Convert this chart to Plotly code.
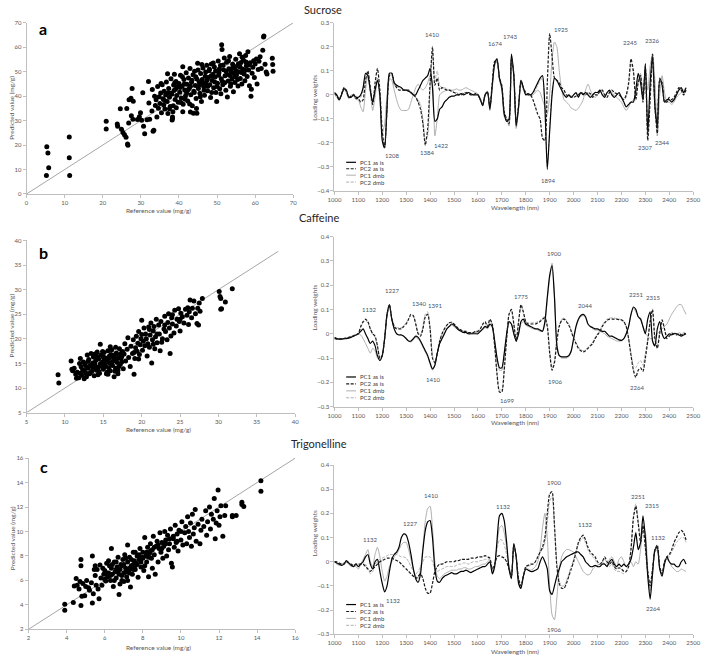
import plotly.graph_objects as go

W, H = 710, 659


def px(x):
    return x / W


def py(y):
    return 1 - y / H


# ---------------------------------------------------------------- scatter data
sucrose_points = [
    (5.2, 7.6), (5.3, 19.3), (5.6, 16.8), (5.8, 10.7), (11.2, 23.3), (11.2, 14.8), (11.3, 7.5),
    (20.9, 29.7), (20.9, 26.6), (23.8, 28.6), (23.9, 27.7), (24.6, 34.9), (24.9, 26.5), (25.3, 25.1),
    (25.7, 24.2), (26.1, 23.2), (26.3, 35.0), (26.5, 20.4), (26.6, 19.9), (26.8, 29.0), (26.9, 38.5),
    (27.4, 39.1), (27.5, 32.0), (27.7, 43.1), (27.9, 30.6), (28.0, 37.9), (29.1, 30.5), (29.6, 31.6),
    (29.9, 33.2), (30.2, 30.1), (30.5, 41.4), (30.7, 27.7), (31.0, 24.6), (31.6, 30.4), (32.0, 46.0),
    (32.1, 37.2), (32.3, 30.6), (32.9, 33.9), (33.2, 25.6), (33.4, 26.1), (33.0, 42.7), (33.6, 40.0),
    (33.8, 36.2), (34.0, 38.5), (34.2, 31.5), (34.4, 43.9), (34.6, 35.1), (34.8, 39.8), (35.0, 37.0),
    (35.2, 41.3), (35.4, 33.2), (35.6, 44.7), (35.8, 38.9), (36.0, 36.4), (36.1, 42.0), (36.3, 34.7),
    (36.5, 40.5), (36.7, 45.8), (36.9, 37.8), (37.0, 49.2), (37.1, 32.9), (37.3, 43.1), (37.5, 39.6),
    (37.7, 35.8), (37.9, 47.1), (38.0, 41.2), (38.2, 30.2), (38.3, 31.5), (38.4, 33.6), (38.5, 36.1),
    (38.6, 44.6), (38.7, 42.3), (38.8, 49.0), (39.0, 38.6), (39.2, 46.0), (39.4, 40.3), (39.6, 43.8),
    (39.8, 37.5), (40.0, 45.2), (40.2, 41.6), (40.4, 48.5), (40.6, 39.2), (40.8, 44.0), (41.0, 52.0),
    (41.1, 36.7), (41.3, 46.8), (41.5, 42.5), (41.7, 40.1), (41.9, 49.6), (42.1, 44.9), (42.3, 38.0),
    (42.5, 47.4), (42.7, 43.2), (42.9, 51.3), (43.1, 40.6), (43.3, 45.7), (43.5, 36.1), (43.7, 48.8),
    (43.9, 42.0), (44.1, 50.2), (44.3, 44.4), (44.5, 39.0), (44.7, 47.0), (44.9, 53.5), (45.1, 43.1),
    (45.3, 45.9), (45.5, 41.2), (45.7, 49.3), (45.9, 37.8), (46.1, 46.8), (46.3, 51.5), (46.5, 43.8),
    (46.7, 40.4), (46.9, 48.1), (47.1, 45.2), (47.3, 52.6), (47.5, 42.2), (47.7, 47.6), (47.9, 50.4),
    (48.1, 44.7), (48.3, 39.5), (48.5, 53.2), (48.7, 46.4), (48.9, 49.0), (49.1, 43.4), (49.3, 51.9),
    (49.5, 47.8), (49.7, 41.5), (49.9, 37.8), (50.1, 45.3), (50.3, 54.4), (50.5, 49.6), (50.7, 43.0),
    (50.9, 52.5), (51.1, 47.1), (51.2, 61.0), (51.3, 59.1), (51.5, 44.7), (51.7, 50.8), (51.9, 55.6),
    (52.1, 48.3), (52.3, 42.4), (52.5, 53.9), (52.7, 39.7), (52.9, 46.2), (53.1, 51.2), (53.3, 56.2),
    (53.5, 44.0), (53.7, 49.9), (53.9, 47.0), (54.1, 53.0), (54.3, 41.8), (54.5, 51.6), (54.7, 45.6),
    (54.9, 55.1), (55.1, 48.7), (55.3, 52.3), (55.5, 44.2), (55.7, 50.0), (55.9, 57.3), (56.1, 47.2),
    (56.3, 53.8), (56.5, 45.0), (56.7, 51.1), (56.9, 54.8), (57.1, 49.1), (57.3, 46.3), (57.5, 56.6),
    (57.7, 52.4), (57.9, 48.0), (58.1, 58.2), (58.3, 50.7), (58.5, 44.3), (58.7, 53.7), (58.9, 40.0),
    (59.0, 42.8), (59.2, 49.4), (59.4, 51.8), (59.6, 54.5), (59.8, 47.6), (60.0, 53.1), (60.3, 55.2),
    (60.5, 45.0), (60.8, 50.9), (61.0, 54.3), (61.3, 56.1), (61.6, 51.3), (62.0, 58.8), (62.2, 64.2),
    (62.3, 64.6), (62.6, 53.0), (62.9, 49.9), (63.1, 49.1), (64.5, 55.5), (64.6, 52.9), (64.7, 50.2),
    (39.1, 42.8), (40.3, 43.5), (41.4, 45.0), (42.4, 42.6), (43.4, 46.5), (44.4, 47.9), (45.4, 44.6),
    (46.4, 45.5), (47.4, 46.6), (48.4, 48.2), (49.4, 45.8), (50.4, 48.6), (51.4, 46.0), (52.4, 50.2),
    (53.4, 48.4), (54.4, 49.4), (55.4, 46.8), (56.4, 49.7), (57.4, 50.6), (58.4, 52.8), (38.1, 40.8),
    (39.3, 35.3), (40.5, 37.4), (41.6, 38.7), (42.8, 36.8), (43.8, 33.0), (44.6, 35.0), (45.6, 39.8),
    (46.6, 42.4), (47.6, 44.0), (48.6, 41.5), (49.6, 50.3), (50.6, 51.1), (51.6, 52.7), (52.6, 48.9),
    (53.6, 45.1), (54.6, 47.9), (55.6, 53.3), (56.6, 55.9), (57.6, 54.0), (35.3, 45.2), (36.2, 38.2),
    (37.2, 41.4), (38.9, 45.5), (40.9, 47.9), (42.0, 41.3), (43.0, 44.0), (44.0, 41.5), (45.0, 50.7),
    (46.0, 52.9), (47.0, 49.9), (48.0, 51.0), (49.0, 53.6), (50.0, 43.9), (51.0, 41.0), (52.0, 45.5),
    (53.0, 54.5), (54.0, 51.4), (55.0, 50.4), (56.0, 52.0), (43.0, 33.5), (44.7, 33.0), (41.0, 33.6),
    (37.5, 34.8), (38.3, 30.9),
]

caffeine_points = [
    (9.1, 12.7), (9.2, 11.0), (10.8, 15.5), (10.9, 13.8), (11.0, 13.5), (11.2, 14.0), (11.4, 12.8),
    (11.6, 13.2), (11.8, 12.1), (11.9, 15.0), (12.0, 16.0), (12.1, 14.3), (12.2, 12.6), (12.3, 13.7),
    (12.4, 15.3), (12.5, 11.9), (12.6, 14.8), (12.7, 13.1), (12.8, 12.3), (12.9, 16.7), (13.0, 14.0),
    (13.1, 15.8), (13.2, 12.9), (13.3, 14.6), (13.4, 17.0), (13.5, 13.4), (13.6, 15.1), (13.7, 16.3),
    (13.8, 12.5), (13.9, 14.9), (14.0, 15.6), (14.1, 13.6), (14.2, 17.3), (14.3, 14.2), (14.4, 15.9),
    (14.5, 13.0), (14.6, 18.9), (14.7, 16.7), (14.8, 14.4), (14.9, 15.3), (15.0, 13.8), (15.1, 17.2),
    (15.2, 14.9), (15.3, 16.1), (15.4, 12.9), (15.5, 15.6), (15.6, 17.6), (15.7, 14.1), (15.8, 16.5),
    (15.9, 13.5), (16.0, 15.0), (16.1, 17.8), (16.2, 14.6), (16.3, 16.2), (16.4, 12.3), (16.5, 15.7),
    (16.6, 14.0), (16.7, 17.1), (16.8, 15.2), (16.9, 13.6), (17.0, 16.6), (17.1, 18.0), (17.2, 14.8),
    (17.3, 16.0), (17.4, 15.3), (17.5, 17.4), (17.6, 13.9), (17.7, 16.9), (17.8, 19.0), (17.9, 15.5),
    (12.0, 13.0), (12.8, 14.3), (13.3, 13.1), (13.6, 14.2), (14.0, 14.0), (14.2, 16.4), (14.4, 13.4),
    (14.7, 15.0), (15.0, 16.3), (15.3, 14.4), (15.5, 13.2), (15.8, 15.1), (16.0, 16.8), (16.2, 15.4),
    (16.5, 13.4), (16.8, 16.0), (17.0, 14.3), (17.3, 17.0), (13.0, 15.4), (13.9, 16.9), (14.9, 17.4),
    (15.9, 18.4), (16.6, 18.3), (12.5, 13.5), (11.5, 12.0), (13.8, 14.8), (14.6, 14.9), (15.1, 15.9),
    (15.7, 16.0), (16.4, 16.7), (17.4, 16.4), (14.3, 12.7), (15.6, 12.8), (16.9, 12.9),
    (18.1, 17.9), (18.3, 16.2), (18.5, 14.4), (18.6, 18.5), (18.8, 17.0), (18.9, 19.8), (19.0, 12.8),
    (19.1, 16.0), (19.2, 18.2), (19.3, 20.5), (19.4, 17.5), (19.5, 19.1), (19.6, 21.5), (19.7, 16.8),
    (19.8, 18.8), (19.9, 20.0), (20.0, 23.8), (20.1, 17.7), (20.2, 19.5), (20.3, 22.2), (20.4, 18.6),
    (20.5, 21.0), (20.6, 20.0), (20.7, 16.5), (20.8, 19.0), (20.9, 22.4), (21.0, 18.3), (21.1, 20.8),
    (21.2, 23.2), (21.3, 15.1), (21.4, 19.8), (21.5, 21.6), (21.6, 22.5), (21.7, 18.0), (21.8, 20.4),
    (21.9, 24.0), (22.0, 19.2), (22.2, 22.8), (22.3, 21.0), (22.4, 17.6), (22.5, 23.5), (22.7, 20.0),
    (22.9, 22.0), (23.0, 24.6), (23.1, 21.5), (23.3, 19.8), (23.4, 23.3), (23.5, 25.1), (23.6, 22.2),
    (23.7, 17.0), (23.8, 20.6), (23.9, 24.3), (24.0, 23.0), (24.2, 21.2), (24.3, 25.8), (24.5, 22.6),
    (24.6, 24.0), (24.8, 26.1), (24.9, 23.5), (25.0, 21.6), (25.1, 25.2), (25.3, 24.5), (25.5, 23.2),
    (25.7, 26.0), (25.9, 24.8), (26.1, 22.9), (26.2, 25.5), (26.3, 27.9), (26.5, 24.3), (26.6, 26.2),
    (26.8, 27.7), (27.0, 25.1), (27.2, 23.1), (27.3, 26.2), (27.4, 22.8), (27.5, 27.3), (27.6, 25.6),
    (27.9, 28.2), (30.1, 29.6), (30.2, 28.6), (30.3, 28.2), (30.3, 26.0), (30.4, 26.1), (30.9, 27.5),
    (31.8, 30.2), (19.0, 17.2), (20.0, 20.9), (21.0, 21.9), (22.0, 21.0), (23.0, 22.8), (24.0, 24.9),
    (25.0, 24.0), (26.0, 26.3), (21.5, 18.9), (22.6, 19.3), (19.6, 15.9), (18.2, 20.2),
]

trigonelline_points = [
    (3.9, 4.05), (3.9, 3.55), (4.35, 4.2), (4.4, 5.55), (4.5, 6.15), (4.55, 5.6), (4.65, 5.3),
    (4.7, 5.9), (4.75, 3.95), (4.75, 7.7), (4.75, 7.2), (4.8, 4.7), (4.85, 5.75), (4.95, 4.75),
    (5.0, 5.5), (5.05, 6.0), (5.15, 5.4), (5.2, 5.2), (5.3, 5.8), (5.35, 8.0), (5.35, 4.15),
    (5.4, 4.9), (5.45, 6.9), (5.5, 6.4), (5.55, 5.6), (5.6, 6.9), (5.65, 5.3), (5.7, 4.5),
    (5.75, 7.25), (5.8, 6.2), (5.85, 5.6), (5.9, 7.0), (5.95, 6.5), (6.0, 6.8), (6.05, 5.95),
    (6.1, 7.4), (6.15, 6.3), (6.2, 6.6), (6.25, 7.2), (6.3, 6.0), (6.35, 8.6), (6.35, 7.0),
    (6.4, 6.5), (6.45, 5.5), (6.5, 7.5), (6.55, 6.7), (6.6, 6.2), (6.65, 7.1), (6.7, 7.9),
    (6.75, 6.5), (6.75, 4.85), (6.8, 6.9), (6.85, 7.3), (6.9, 6.0), (6.95, 7.7), (7.0, 6.6),
    (7.05, 8.1), (7.1, 7.0), (7.15, 6.3), (7.2, 7.5), (7.2, 8.9), (7.25, 6.8), (7.3, 7.9),
    (7.35, 5.45), (7.4, 7.2), (7.45, 6.5), (7.5, 8.3), (7.55, 7.6), (7.6, 6.9), (7.65, 7.4),
    (7.7, 8.0), (7.75, 6.25), (7.8, 7.7), (7.85, 8.6), (7.9, 7.1), (7.95, 7.9), (8.0, 8.3),
    (8.05, 6.8), (8.1, 9.5), (8.15, 8.0), (8.2, 7.5), (8.25, 8.7), (8.3, 6.3), (8.35, 8.2),
    (8.4, 9.0), (8.45, 7.8), (8.5, 8.5), (8.55, 9.6), (8.6, 8.1), (8.65, 6.5), (8.7, 8.8),
    (8.75, 9.2), (8.8, 7.5), (8.85, 8.6), (8.9, 9.9), (8.95, 8.3), (9.0, 9.1), (9.05, 7.8),
    (9.1, 8.8), (9.15, 10.0), (9.2, 9.3), (9.25, 8.0), (9.3, 9.7), (9.35, 8.5), (9.4, 9.0),
    (9.45, 10.2), (9.5, 7.4), (9.55, 7.1), (9.6, 9.4), (9.65, 8.7), (9.7, 10.5), (9.75, 9.1),
    (9.8, 9.8), (9.85, 8.4), (9.9, 10.1), (10.0, 9.3), (10.05, 10.8), (10.1, 8.9), (10.2, 9.9),
    (10.25, 10.4), (10.3, 9.0), (10.35, 11.2), (10.4, 10.0), (10.45, 9.5), (10.5, 10.7), (10.55, 8.8),
    (10.6, 11.4), (10.65, 9.8), (10.7, 10.3), (10.75, 11.8), (10.8, 9.2), (10.9, 10.6), (11.0, 9.0),
    (11.05, 10.1), (11.1, 11.0), (11.2, 10.4), (11.3, 11.7), (11.35, 9.7), (11.4, 10.8), (11.5, 12.0),
    (11.55, 10.2), (11.6, 11.4), (11.7, 11.0), (11.75, 12.7), (11.8, 9.4), (11.85, 10.7), (11.9, 11.7),
    (11.95, 13.4), (12.0, 10.5), (12.05, 11.2), (12.1, 12.1), (12.2, 9.6), (12.3, 11.3), (12.35, 12.1),
    (12.7, 11.3), (12.7, 11.2), (12.9, 11.3), (13.2, 12.4), (13.2, 12.2), (13.3, 12.05), (14.2, 14.15),
    (14.2, 13.3), (6.3, 6.4), (6.6, 6.9), (6.9, 7.2), (7.0, 7.3), (7.1, 6.7), (7.3, 7.0), (7.4, 7.7),
    (7.5, 6.9), (7.6, 7.2), (7.7, 7.3), (7.9, 7.5), (8.0, 7.8), (8.2, 8.3), (8.4, 8.4), (8.6, 8.7),
    (8.8, 8.9), (9.0, 8.6), (9.2, 9.0), (9.4, 9.4), (9.6, 9.6), (9.8, 9.2), (10.0, 10.0), (6.2, 7.6),
    (6.5, 6.0), (6.8, 5.7), (7.0, 5.9), (7.2, 6.0), (7.6, 8.3), (7.8, 8.1), (8.1, 7.2), (8.3, 7.9),
    (8.5, 7.0), (5.5, 7.2), (6.0, 6.1), (6.4, 7.3), (6.7, 6.8), (7.1, 7.8), (7.3, 6.6), (7.5, 7.3),
    (6.1, 6.6), (6.6, 7.5), (6.9, 6.4),
]

sucrose_diag = [0, 70]
caffeine_diag = [5, 37.8]
trigonelline_diag = [2, 16]

# ---------------------------------------------------------------- loading weights (10 nm grid)
wavelength = list(range(1000, 2480, 10))

sucrose_pc1_asis = [
    0.01, 0.0, -0.02, 0.0, 0.025, 0.02, -0.01, -0.01, 0.0, -0.01,
    -0.01, 0.0, 0.03, 0.09, 0.08, 0.02, -0.03, 0.02, 0.06, 0.0,
    -0.19, -0.22, -0.05, 0.09, 0.09, 0.05, 0.04, 0.035, 0.03, 0.02,
    0.02, 0.015, 0.01, 0.0, 0.0, 0.02, 0.04, 0.06, 0.07, 0.08,
    0.11, 0.03, -0.11, -0.1, -0.06, -0.05, -0.03, -0.02, -0.01, -0.005,
    -0.005, 0.0, 0.0, 0.005, 0.0, 0.005, 0.01, 0.005, 0.0, 0.0,
    0.0, -0.02, -0.045, 0.0, 0.01, -0.06, 0.04, 0.13, 0.15, 0.07,
    0.03, -0.08, -0.11, -0.1, 0.17, 0.08, -0.13, -0.05, 0.06, 0.03,
    0.0, 0.005, 0.0, 0.01, 0.03, 0.05, 0.07, 0.08, -0.05, -0.31,
    -0.15, 0.0, 0.07, 0.06, 0.04, 0.02, 0.0, -0.01, 0.0, -0.01,
    0.0, 0.01, -0.01, 0.01, 0.0, 0.01, 0.0, -0.01, 0.0, 0.01,
    0.01, 0.02, 0.0, -0.01, 0.01, 0.02, 0.0, -0.01, 0.0, 0.01,
    -0.01, -0.03, -0.05, -0.04, -0.03, -0.03, 0.02, 0.09, 0.05, -0.02,
    0.13, -0.16, 0.05, 0.16, -0.05, -0.13, 0.07, 0.04, -0.03, -0.02,
    -0.02, -0.03, -0.02, 0.0, 0.02, 0.03, 0.01, 0.03,
]
sucrose_pc2_asis = [
    0.005, -0.005, -0.02, 0.005, 0.03, 0.015, -0.01, -0.005, 0.0, -0.015,
    -0.015, -0.03, -0.02, 0.06, 0.1, 0.03, -0.04, 0.05, 0.11, 0.02,
    -0.15, -0.22, -0.06, 0.08, 0.09, 0.05, 0.03, 0.02, 0.02, 0.02,
    0.02, 0.02, 0.01, 0.0, -0.01, -0.03, -0.06, -0.12, -0.21, -0.14,
    0.05, 0.2, 0.04, 0.07, 0.02, 0.03, 0.025, 0.02, 0.02, 0.015,
    0.01, 0.005, 0.0, 0.0, 0.005, 0.01, 0.005, 0.0, 0.0, 0.005,
    0.0, -0.02, -0.04, 0.0, 0.015, -0.05, 0.05, 0.14, 0.14, 0.07,
    0.04, -0.07, -0.1, -0.12, 0.15, 0.09, -0.12, -0.04, 0.06, 0.03,
    0.01, 0.0, 0.0, -0.02, -0.05, -0.08, -0.1, -0.18, -0.19, 0.05,
    0.255, 0.16, 0.07, 0.06, 0.05, 0.03, 0.02, 0.0, -0.005, -0.01,
    -0.01, -0.005, 0.0, 0.01, 0.005, 0.0, 0.01, 0.005, -0.01, 0.0,
    0.0, 0.015, 0.02, 0.0, -0.01, 0.01, 0.02, 0.01, 0.005, 0.0,
    -0.01, -0.02, 0.0, 0.05, 0.15, 0.1, -0.02, 0.05, 0.08, -0.03,
    0.12, -0.19, -0.02, 0.17, -0.05, -0.16, 0.06, 0.05, -0.03, -0.03,
    -0.01, -0.02, -0.01, 0.01, 0.03, 0.02, 0.0, 0.02,
]
sucrose_pc1_dmb = [
    0.0, -0.01, -0.025, 0.005, 0.03, 0.01, -0.015, 0.0, -0.005, -0.02,
    -0.02, -0.05, -0.07, 0.02, 0.09, 0.01, -0.065, -0.01, 0.07, -0.02,
    -0.16, -0.12, 0.0, 0.07, 0.06, 0.02, -0.02, -0.05, -0.065, -0.065,
    -0.065, -0.06, -0.03, 0.0, 0.03, 0.045, 0.03, 0.02, 0.03, 0.05,
    0.08, 0.05, -0.17, -0.1, 0.0, 0.01, 0.015, 0.02, 0.02, 0.02,
    0.02, 0.025, 0.02, 0.02, 0.025, 0.03, 0.025, 0.02, 0.015, 0.01,
    0.005, -0.015, -0.04, 0.0, 0.01, -0.065, 0.03, 0.12, 0.14, 0.06,
    0.02, -0.09, -0.1, -0.13, 0.15, 0.08, -0.14, -0.06, 0.05, 0.02,
    0.0, 0.0, -0.005, 0.0, 0.01, 0.02, 0.01, -0.02, -0.05, -0.08,
    0.0, 0.15, 0.22, 0.2, 0.1, 0.02, -0.02, -0.03, -0.04, -0.055,
    -0.06, -0.065, -0.055, -0.04, -0.02, 0.02, 0.045, 0.02, 0.0, -0.01,
    0.0, 0.02, 0.015, 0.0, 0.005, 0.02, 0.01, 0.0, -0.01, -0.02,
    -0.03, -0.05, -0.065, -0.05, -0.03, -0.02, 0.0, 0.06, 0.09, 0.0,
    0.1, 0.02, 0.12, 0.17, 0.06, -0.17, 0.0, 0.08, 0.01, -0.03,
    -0.03, -0.04, -0.03, -0.01, 0.0, 0.01, 0.02, 0.03,
]
sucrose_pc2_dmb = [
    0.01, 0.0, -0.015, 0.005, 0.02, 0.015, -0.005, -0.01, 0.005, -0.005,
    -0.01, -0.01, 0.02, 0.08, 0.07, 0.015, -0.035, 0.03, 0.07, 0.0,
    -0.18, -0.21, -0.04, 0.09, 0.08, 0.04, 0.035, 0.03, 0.025, 0.02,
    0.02, 0.015, 0.005, 0.0, -0.01, -0.02, -0.04, -0.1, -0.19, -0.17,
    0.02, 0.18, 0.06, 0.1, 0.04, 0.03, 0.03, 0.025, 0.02, 0.02,
    0.01, 0.01, 0.005, 0.005, 0.01, 0.01, 0.01, 0.005, 0.0, 0.005,
    0.0, -0.015, -0.04, 0.005, 0.015, -0.055, 0.04, 0.13, 0.14, 0.07,
    0.03, -0.08, -0.1, -0.11, 0.16, 0.09, -0.13, -0.05, 0.06, 0.03,
    0.0, 0.005, 0.0, 0.005, 0.02, 0.04, 0.06, 0.07, -0.06, -0.3,
    -0.14, 0.02, 0.07, 0.06, 0.04, 0.02, 0.005, -0.005, 0.0, -0.005,
    0.0, 0.01, -0.005, 0.01, 0.0, 0.01, 0.005, -0.005, 0.0, 0.01,
    0.01, 0.015, 0.0, -0.005, 0.01, 0.015, 0.005, -0.005, 0.0, 0.005,
    -0.01, -0.02, -0.01, 0.04, 0.13, 0.09, -0.02, 0.06, 0.07, -0.02,
    0.11, -0.17, 0.0, 0.15, 0.02, -0.17, 0.05, 0.06, -0.02, -0.03,
    -0.02, -0.025, -0.015, 0.005, 0.025, 0.02, 0.005, 0.025,
]

caffeine_pc1_asis = [
    -0.015, -0.02, -0.022, -0.022, -0.02, -0.02, -0.018, -0.015, -0.01, -0.005,
    0.0, 0.01, 0.02, 0.0, -0.02, -0.04, -0.03, -0.05, -0.09, -0.11,
    -0.09, -0.02, 0.08, 0.12, 0.06, 0.02, 0.0, -0.005, -0.005, -0.01,
    -0.02, -0.03, -0.03, -0.02, -0.01, -0.015, -0.03, -0.05, -0.07, -0.09,
    -0.12, -0.145, -0.13, -0.08, -0.04, -0.02, 0.0, 0.02, 0.03, 0.04,
    0.035, 0.025, 0.015, 0.01, 0.005, 0.005, 0.0, 0.0, 0.0, 0.0,
    0.0, 0.01, 0.02, 0.03, 0.025, 0.04, 0.03, -0.03, -0.1, -0.14,
    -0.14, -0.08, 0.0, 0.05, 0.04, 0.0, -0.03, 0.0, 0.05, 0.06,
    0.04, 0.035, 0.03, 0.025, 0.02, 0.02, 0.015, 0.01, 0.05, 0.15,
    0.24, 0.28, 0.15, -0.05, -0.09, -0.095, -0.095, -0.095, -0.09, -0.07,
    -0.02, 0.03, 0.06, 0.075, 0.08, 0.07, 0.04, 0.03, 0.025, 0.02,
    0.02, 0.015, 0.01, 0.01, 0.0, -0.01, -0.01, -0.015, -0.02, -0.025,
    -0.027, -0.02, 0.0, 0.03, 0.08, 0.11, 0.1, 0.07, 0.06, 0.03,
    0.0, 0.06, 0.09, -0.03, -0.05, 0.02, 0.05, 0.0, -0.02, -0.01,
    0.0, -0.005, 0.0, 0.0, -0.005, -0.01, -0.005, 0.0,
]
caffeine_pc2_asis = [
    -0.02, -0.022, -0.022, -0.02, -0.02, -0.018, -0.015, -0.012, -0.008, -0.005,
    0.0, 0.03, 0.05, 0.06, 0.05, 0.02, 0.0, -0.01, -0.05, -0.1,
    -0.09, -0.02, 0.08, 0.12, 0.06, 0.03, 0.02, 0.02, 0.02, 0.03,
    0.04, 0.06, 0.08, 0.075, 0.04, 0.0, -0.01, 0.02, 0.07, 0.08,
    0.02, -0.1, -0.12, -0.08, -0.03, 0.0, 0.02, 0.035, 0.045, 0.047,
    0.04, 0.03, 0.02, 0.015, 0.01, 0.01, 0.005, 0.005, 0.005, 0.01,
    0.01, 0.02, 0.04, 0.05, 0.03, 0.06, 0.04, -0.05, -0.17, -0.24,
    -0.24, -0.15, -0.02, 0.08, 0.1, 0.04, -0.03, 0.05, 0.12, 0.09,
    0.05, 0.04, 0.04, 0.04, 0.04, 0.045, 0.05, 0.06, 0.065, 0.03,
    -0.08, -0.15, -0.12, -0.03, 0.03, 0.055, 0.06, 0.05, 0.035, 0.01,
    -0.02, -0.04, -0.06, -0.07, -0.075, -0.07, -0.06, -0.05, -0.04, -0.02,
    -0.005, 0.01, 0.03, 0.045, 0.055, 0.06, 0.06, 0.06, 0.06, 0.058,
    0.057, 0.05, 0.03, -0.02, -0.09, -0.15, -0.18, -0.15, -0.14, -0.155,
    -0.1, -0.03, 0.05, 0.1, -0.02, -0.06, 0.0, 0.057, 0.02, -0.02,
    -0.01, 0.0, 0.0, -0.005, 0.0, -0.005, 0.0, 0.0,
]
caffeine_pc1_dmb = [
    -0.018, -0.022, -0.024, -0.022, -0.02, -0.018, -0.016, -0.013, -0.01, -0.005,
    0.0, -0.005, -0.02, -0.04, -0.06, -0.08, -0.06, -0.07, -0.1, -0.11,
    -0.09, -0.02, 0.07, 0.115, 0.06, 0.02, 0.0, -0.005, -0.005, -0.01,
    -0.02, -0.03, -0.035, -0.025, -0.015, -0.02, -0.035, -0.055, -0.075, -0.095,
    -0.125, -0.15, -0.13, -0.08, -0.04, -0.015, 0.005, 0.02, 0.03, 0.035,
    0.03, 0.02, 0.015, 0.01, 0.005, 0.005, 0.0, 0.0, 0.0, 0.005,
    0.005, 0.01, 0.015, 0.025, 0.02, 0.035, 0.025, -0.03, -0.1, -0.15,
    -0.15, -0.09, -0.01, 0.045, 0.04, 0.0, -0.03, 0.0, 0.04, 0.05,
    0.035, 0.03, 0.025, 0.02, 0.02, 0.015, 0.01, 0.01, 0.04, 0.14,
    0.23, 0.29, 0.16, -0.04, -0.09, -0.1, -0.1, -0.1, -0.095, -0.075,
    -0.025, 0.025, 0.055, 0.07, 0.075, 0.065, 0.04, 0.03, 0.02, 0.015,
    0.015, 0.01, 0.005, 0.0, -0.01, -0.015, -0.02, -0.025, -0.03, -0.03,
    -0.03, -0.02, 0.0, 0.03, 0.08, 0.105, 0.09, 0.07, 0.065, 0.03,
    0.0, -0.01, -0.02, -0.02, -0.01, 0.0, 0.01, 0.02, 0.03, 0.04,
    0.06, 0.08, 0.095, 0.11, 0.12, 0.12, 0.1, 0.08,
]
caffeine_pc2_dmb = [
    -0.02, -0.02, -0.02, -0.02, -0.018, -0.016, -0.014, -0.01, -0.006, -0.003,
    0.0, 0.025, 0.045, 0.055, 0.045, 0.02, 0.0, -0.015, -0.055, -0.1,
    -0.085, -0.015, 0.08, 0.115, 0.065, 0.035, 0.025, 0.025, 0.025, 0.035,
    0.045, 0.06, 0.075, 0.07, 0.04, 0.005, -0.005, 0.03, 0.08, 0.09,
    0.03, -0.09, -0.12, -0.08, -0.03, 0.0, 0.02, 0.035, 0.045, 0.045,
    0.04, 0.03, 0.02, 0.015, 0.01, 0.01, 0.005, 0.005, 0.005, 0.01,
    0.01, 0.02, 0.035, 0.045, 0.03, 0.055, 0.035, -0.05, -0.16, -0.23,
    -0.23, -0.14, -0.02, 0.08, 0.1, 0.04, -0.03, 0.05, 0.11, 0.085,
    0.05, 0.045, 0.045, 0.045, 0.045, 0.05, 0.055, 0.065, 0.07, 0.035,
    -0.07, -0.14, -0.11, -0.02, 0.035, 0.06, 0.065, 0.055, 0.04, 0.015,
    -0.015, -0.035, -0.055, -0.065, -0.07, -0.065, -0.055, -0.045, -0.035, -0.015,
    0.0, 0.015, 0.035, 0.05, 0.06, 0.065, 0.065, 0.065, 0.062, 0.06,
    0.058, 0.05, 0.03, -0.02, -0.08, -0.13, -0.14, -0.12, -0.11, -0.13,
    -0.08, -0.02, 0.05, 0.09, -0.02, -0.05, 0.01, 0.05, 0.02, -0.01,
    -0.005, 0.005, 0.005, 0.0, 0.005, 0.0, 0.005, 0.005,
]

trigonelline_pc1_asis = [
    0.0, -0.005, -0.01, -0.015, -0.01, 0.005, -0.005, -0.015, -0.02, -0.01,
    -0.02, -0.01, 0.0, 0.02, 0.03, -0.01, -0.03, 0.0, 0.01, -0.04,
    -0.09, -0.125, -0.1, -0.04, 0.01, 0.03, 0.04, 0.06, 0.1, 0.115,
    0.11, 0.08, 0.03, -0.03, -0.07, -0.085, -0.05, 0.05, 0.13, 0.165,
    0.17, 0.1, -0.03, -0.08, -0.085, -0.07, -0.06, -0.055, -0.05, -0.045,
    -0.05, -0.05, -0.045, -0.04, -0.04, -0.035, -0.04, -0.045, -0.04, -0.035,
    -0.03, -0.025, -0.02, -0.02, -0.01, 0.0, -0.05, -0.02, 0.09, 0.19,
    0.2, 0.17, 0.08, -0.03, -0.07, 0.075, 0.02, -0.09, -0.11, -0.06,
    -0.03, -0.035, -0.04, -0.04, -0.035, -0.03, 0.0, 0.02, 0.0, -0.03,
    -0.12, -0.135, -0.1, -0.06, -0.03, 0.0, 0.01, 0.02, 0.025, 0.03,
    0.035, 0.04, 0.04, 0.03, 0.02, 0.0, -0.01, -0.02, -0.02, -0.015,
    -0.02, -0.02, -0.01, -0.01, -0.02, 0.0, 0.01, -0.01, -0.02, -0.01,
    -0.02, -0.01, -0.02, -0.01, 0.01, 0.06, 0.12, 0.05, 0.08, 0.19,
    0.1, -0.06, -0.155, -0.05, 0.05, 0.06, -0.03, -0.06, -0.01, 0.02,
    0.0, -0.01, -0.01, -0.02, -0.02, 0.0, 0.01, -0.01,
]
trigonelline_pc2_asis = [
    0.0, 0.0, -0.005, -0.01, -0.01, 0.0, -0.005, -0.01, -0.015, -0.01,
    -0.01, -0.01, -0.01, -0.02, -0.03, -0.04, -0.03, -0.02, -0.01, 0.0,
    0.005, 0.01, 0.015, 0.015, 0.015, 0.01, 0.005, 0.0, -0.01, -0.02,
    -0.03, -0.04, -0.05, -0.06, -0.07, -0.06, -0.05, -0.07, -0.11, -0.13,
    -0.13, -0.09, -0.04, -0.02, -0.01, -0.01, -0.005, 0.0, 0.0, 0.0,
    0.0, 0.005, 0.005, 0.01, 0.01, 0.01, 0.01, 0.015, 0.015, 0.015,
    0.02, 0.02, 0.02, 0.025, 0.02, 0.015, -0.03, -0.01, 0.02, 0.025,
    0.02, 0.015, 0.0, -0.03, -0.06, 0.07, 0.02, -0.07, -0.1, -0.06,
    -0.02, -0.015, -0.01, -0.01, 0.0, 0.02, 0.04, 0.06, 0.1, 0.2,
    0.28, 0.29, 0.15, -0.02, -0.09, -0.11, -0.11, -0.09, -0.06, -0.03,
    0.0, 0.04, 0.08, 0.1, 0.11, 0.09, 0.06, 0.04, 0.03, 0.02,
    0.0, -0.01, 0.0, 0.02, 0.0, -0.01, 0.0, -0.02, -0.03, -0.025,
    -0.03, -0.04, -0.04, -0.02, 0.05, 0.18, 0.23, 0.16, 0.08, 0.15,
    0.06, -0.04, -0.1, -0.03, 0.05, 0.07, -0.02, -0.05, 0.0, 0.02,
    0.03, 0.05, 0.08, 0.1, 0.12, 0.13, 0.12, 0.09,
]
trigonelline_pc1_dmb = [
    0.0, -0.01, -0.015, -0.01, -0.005, 0.0, -0.01, -0.02, -0.02, -0.02,
    -0.03, -0.01, 0.01, 0.03, 0.05, 0.0, -0.02, 0.03, 0.06, 0.02,
    -0.04, -0.08, -0.06, -0.02, 0.0, 0.02, 0.03, 0.05, 0.07, 0.08,
    0.08, 0.05, 0.01, -0.03, -0.06, -0.07, -0.03, 0.06, 0.17, 0.22,
    0.23, 0.14, 0.0, -0.06, -0.07, -0.06, -0.05, -0.045, -0.04, -0.035,
    -0.035, -0.035, -0.03, -0.03, -0.025, -0.025, -0.03, -0.03, -0.025, -0.02,
    -0.02, -0.015, -0.01, -0.01, 0.0, 0.005, -0.04, -0.01, 0.07, 0.14,
    0.15, 0.12, 0.06, -0.02, -0.06, 0.07, 0.02, -0.08, -0.1, -0.06,
    -0.03, -0.03, -0.035, -0.03, -0.02, 0.0, 0.05, 0.14, 0.2, 0.1,
    -0.1, -0.22, -0.24, -0.15, -0.03, 0.02, 0.04, 0.05, 0.05, 0.045,
    0.04, 0.02, 0.0, -0.02, -0.04, -0.05, -0.055, -0.05, -0.03, -0.02,
    -0.015, -0.01, 0.0, -0.01, -0.02, 0.01, 0.02, 0.0, -0.02, 0.01,
    0.02, 0.0, -0.02, -0.01, 0.0, -0.02, 0.0, -0.01, 0.05, 0.14,
    0.12, -0.03, -0.12, -0.05, 0.04, 0.05, -0.03, -0.05, 0.0, 0.01,
    0.0, -0.02, -0.03, -0.04, -0.04, -0.03, -0.035, -0.04,
]
trigonelline_pc2_dmb = [
    0.0, -0.005, -0.01, -0.01, -0.005, 0.0, -0.01, -0.015, -0.015, -0.01,
    -0.015, -0.01, 0.0, -0.01, -0.03, -0.05, -0.04, -0.01, 0.0, 0.01,
    0.015, 0.02, 0.025, 0.03, 0.03, 0.03, 0.03, 0.025, 0.02, 0.02,
    0.015, 0.0, -0.02, -0.04, -0.05, -0.04, -0.02, 0.0, 0.02, 0.02,
    0.02, 0.0, -0.03, -0.04, -0.035, -0.03, -0.025, -0.02, -0.02, -0.02,
    -0.02, -0.015, -0.01, -0.01, -0.005, -0.005, -0.01, -0.005, 0.0, 0.0,
    0.0, 0.005, 0.005, 0.01, 0.01, 0.01, -0.035, -0.01, 0.05, 0.09,
    0.09, 0.07, 0.03, -0.02, -0.06, 0.07, 0.02, -0.08, -0.1, -0.06,
    -0.025, -0.02, -0.015, -0.01, 0.0, 0.02, 0.04, 0.05, 0.08, 0.16,
    0.25, 0.27, 0.15, -0.01, -0.08, -0.1, -0.1, -0.08, -0.05, -0.02,
    0.01, 0.04, 0.07, 0.09, 0.1, 0.08, 0.05, 0.03, 0.02, 0.01,
    -0.01, -0.01, 0.0, 0.01, -0.01, -0.02, -0.01, -0.03, -0.04, -0.04,
    -0.045, -0.05, -0.04, -0.02, 0.06, 0.19, 0.24, 0.17, 0.1, 0.13,
    0.05, -0.05, -0.1, -0.03, 0.04, 0.06, -0.02, -0.05, 0.0, 0.01,
    0.02, 0.04, 0.06, 0.08, 0.09, 0.1, 0.1, 0.08,
]

# peak labels: (text, wavelength, loading)
sucrose_peaks = [
    ("1208", 1240, -0.252), ("1384", 1385, -0.241), ("1422", 1447, -0.211), ("1410", 1410, 0.25),
    ("1674", 1672, 0.212), ("1743", 1732, 0.242), ("1900", 1895, 0.304), ("1925", 1947, 0.271),
    ("2245", 2234, 0.216), ("2326", 2327, 0.225), ("2307", 2299, -0.22), ("2344", 2370, -0.2),
    ("1894", 1895, -0.355),
]
caffeine_peaks = [
    ("1132", 1145, 0.098), ("1227", 1240, 0.179), ("1340", 1352, 0.126), ("1391", 1421, 0.115),
    ("1410", 1414, -0.187), ("1699", 1721, -0.276), ("1775", 1779, 0.153), ("1900", 1917, 0.332),
    ("1906", 1924, -0.198), ("2044", 2049, 0.115), ("2251", 2261, 0.163), ("2315", 2333, 0.149),
    ("2264", 2265, -0.223),
]
trigonelline_peaks = [
    ("1132", 1148, 0.094), ("1132", 1247, -0.162), ("1227", 1318, 0.157), ("1410", 1404, 0.272),
    ("1132", 1705, 0.229), ("1900", 1917, 0.329), ("1906", 1919, -0.281), ("1132", 2049, 0.156),
    ("2251", 2268, 0.268), ("2315", 2327, 0.233), ("1132", 2354, 0.102), ("2264", 2334, -0.194),
]

series_names = ["PC1 as is", "PC2 as is", "PC1 dmb", "PC2 dmb"]

# ---------------------------------------------------------------- styling
AXIS_GREY = "#bfbfbf"
TICK_TEXT = "#595959"
LABEL_BLUE = "#44546A"
FONT = "Lato, 'Open Sans', sans-serif"

styles = {
    "PC1 as is": dict(color="#000000", width=1.2, dash="solid"),
    "PC2 as is": dict(color="#1a1a1a", width=1.2, dash="3px,1.5px"),
    "PC1 dmb": dict(color="#a6a6a6", width=0.9, dash="solid"),
    "PC2 dmb": dict(color="#a6a6a6", width=0.9, dash="3px,1.5px"),
}


def axis(domain, rng, dtick, tick0, anchor):
    return dict(
        domain=domain, range=rng, dtick=dtick, tick0=tick0, anchor=anchor,
        showline=True, linecolor=AXIS_GREY, linewidth=1, ticks="outside", ticklen=3,
        tickcolor=AXIS_GREY, tickwidth=1, tickfont=dict(size=6, color=TICK_TEXT, family=FONT),
        showgrid=False, zeroline=False, fixedrange=True,
    )


fig = go.Figure()

panels = [
    (sucrose_points, sucrose_diag,
     [sucrose_pc1_asis, sucrose_pc2_asis, sucrose_pc1_dmb, sucrose_pc2_dmb], sucrose_peaks, 1, 2),
    (caffeine_points, caffeine_diag,
     [caffeine_pc1_asis, caffeine_pc2_asis, caffeine_pc1_dmb, caffeine_pc2_dmb], caffeine_peaks, 3, 4),
    (trigonelline_points, trigonelline_diag,
     [trigonelline_pc1_asis, trigonelline_pc2_asis, trigonelline_pc1_dmb, trigonelline_pc2_dmb],
     trigonelline_peaks, 5, 6),
]

annotations = []
shapes = []

for points, diag, loadings, peaks, sa, la in panels:
    sx, sy = ("x" if sa == 1 else f"x{sa}"), ("y" if sa == 1 else f"y{sa}")
    lx, ly = f"x{la}", f"y{la}"
    fig.add_trace(go.Scatter(x=diag, y=diag, mode="lines", line=dict(color="#a6a6a6", width=1),
                             xaxis=sx, yaxis=sy, showlegend=False, hoverinfo="skip"))
    fig.add_trace(go.Scatter(x=[p[0] for p in points], y=[p[1] for p in points], mode="markers",
                             marker=dict(color="black", size=5), xaxis=sx, yaxis=sy, showlegend=False))
    # grey series first, dark ones on top
    for idx in (2, 3, 0, 1):
        name = series_names[idx]
        fig.add_trace(go.Scatter(x=wavelength, y=loadings[idx], mode="lines", name=name,
                                 line=dict(shape="spline", smoothing=0.6, **styles[name]),
                                 xaxis=lx, yaxis=ly, showlegend=False))
    for text, wl, val in peaks:
        annotations.append(dict(x=wl, y=val, xref=lx, yref=ly, text=text, showarrow=False,
                                font=dict(size=6, color=LABEL_BLUE, family=FONT)))

layout_axes = {
    "xaxis": axis([px(20), px(292)], [0, 70], 10, 0, "y"),
    "yaxis": axis([py(192), py(19)], [0, 70], 10, 0, "x"),
    "xaxis2": axis([px(334), px(700)], [1000, 2500], 100, 1000, "y2"),
    "yaxis2": axis([py(189), py(19)], [-0.4, 0.3], 0.1, 0, "x2"),
    "xaxis3": axis([px(20), px(294)], [5, 40], 5, 5, "y3"),
    "yaxis3": axis([py(413), py(239)], [5, 40], 5, 5, "x3"),
    "xaxis4": axis([px(334), px(700)], [1000, 2500], 100, 1000, "y4"),
    "yaxis4": axis([py(407), py(235)], [-0.3, 0.4], 0.1, 0, "x4"),
    "xaxis5": axis([px(22), px(294)], [2, 16], 2, 2, "y5"),
    "yaxis5": axis([py(632), py(459)], [2, 16], 2, 2, "x5"),
    "xaxis6": axis([px(334), px(700)], [1000, 2500], 100, 1000, "y6"),
    "yaxis6": axis([py(637), py(466)], [-0.3, 0.4], 0.1, 0, "x6"),
}


def paper_text(x, y, text, size=7, color=TICK_TEXT, angle=0, xanchor="center"):
    annotations.append(dict(x=px(x), y=py(y), xref="paper", yref="paper", text=text,
                            showarrow=False, textangle=angle, xanchor=xanchor, yanchor="middle",
                            font=dict(size=size, color=color, family=FONT)))


# titles and axis captions
paper_text(322, 6, "Sucrose", size=11, color="#262626")
paper_text(318, 216, "Caffeine", size=11, color="#262626")
paper_text(318, 444, "Trigonelline", size=11, color="#262626")
paper_text(37, 25, "<b>a</b>", size=16, color="#000000")
paper_text(37, 251, "<b>b</b>", size=16, color="#000000")
paper_text(38, 467, "<b>c</b>", size=16, color="#000000")

for ref_y, pred_y, spec_x_y, spec_y_y in [
    (209, 105, 206, 95), (430, 325, 423, 307), (650, 540, 654, 535),
]:
    paper_text(155, ref_y, "Reference value (mg/g)", size=6.5)
    paper_text(5, pred_y, "Predicted value (mg/g)", size=6.5, angle=-90)
    paper_text(518, spec_x_y, "Wavelength (nm)", size=6.5)
    paper_text(314, spec_y_y, "Loading weights", size=6.5, angle=-90)

# hand drawn legends inside each loading panel
for rows in ([160, 166.5, 173, 180], [377, 384, 391, 398], [607, 614, 621, 628]):
    for name, ry in zip(series_names, rows):
        st = styles[name]
        shapes.append(dict(type="line", xref="paper", yref="paper", x0=px(346), x1=px(356),
                           y0=py(ry), y1=py(ry),
                           line=dict(color=st["color"], width=st["width"], dash=st["dash"])))
        paper_text(358, ry, name, size=6, color="#404040", xanchor="left")

fig.update_layout(
    width=W, height=H, autosize=False,
    margin=dict(l=0, r=0, t=0, b=0),
    paper_bgcolor="white", plot_bgcolor="white",
    font=dict(family=FONT),
    showlegend=False,
    annotations=annotations,
    shapes=shapes,
    **layout_axes,
)

# drop the default page margin so the 710x659 figure sits at the window origin
fig.write_html("out.html", config={"displayModeBar": False},
               post_script="document.body.style.margin='0';")
